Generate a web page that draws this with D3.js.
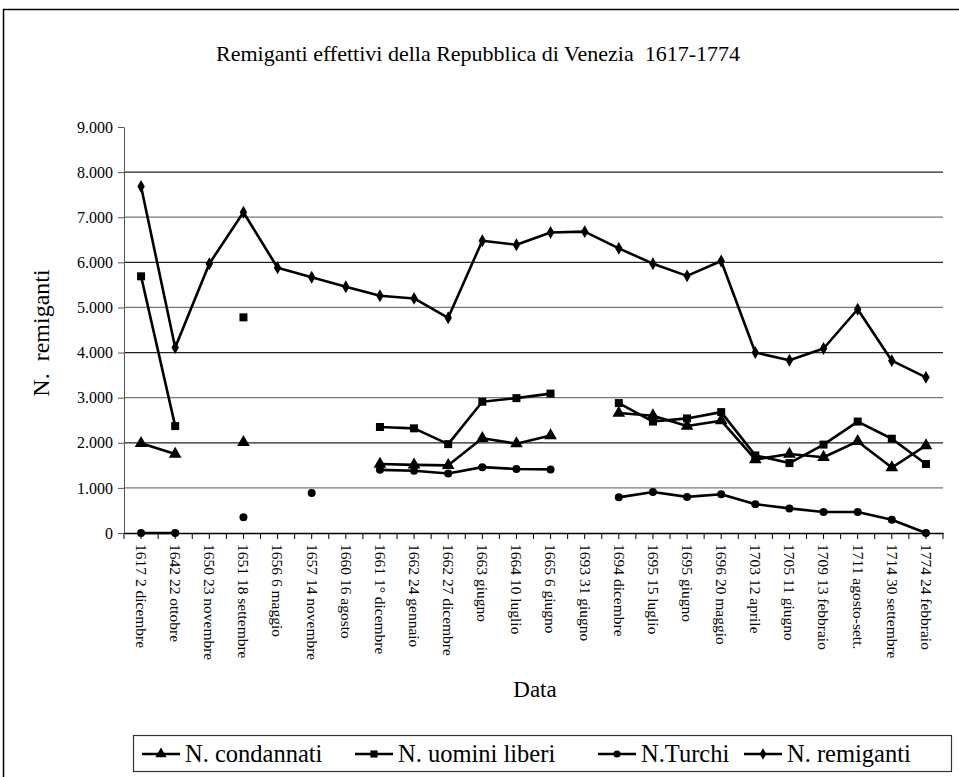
<!DOCTYPE html>
<html>
<head>
<meta charset="utf-8">
<script src="https://cdn.jsdelivr.net/npm/d3@7"></script>
<style>
  body { margin: 0; background: #fff; }
  svg { font-family: "Liberation Serif", "DejaVu Serif", serif; }
</style>
</head>
<body>
<svg id="chart" width="959" height="777"></svg>
<script>
var categories = ["1617 2 dicembre", "1642 22 ottobre", "1650 23 novembre", "1651 18 settembre",
  "1656 6 maggio", "1657 14 novembre", "1660 16 agosto", "1661 1\u00b0 dicembre",
  "1662 24 gennaio", "1662 27 dicembre", "1663 giugno", "1664 10 luglio", "1665 6 giugno",
  "1693 31 giugno", "1694 dicembre", "1695 15 luglio", "1695 giugno", "1696 20 maggio",
  "1703 12 aprile", "1705 11 giugno", "1709 13 febbraio", "1711 agosto-sett.",
  "1714 30 settembre", "1774 24 febbraio"];

var condannati = [1990, 1750, null, 2010, null, null, null, 1530, 1510, 1500, 2100, 1980, 2160,
  null, 2660, 2600, 2370, 2490, 1630, 1750, 1680, 2030, 1450, 1940];
var uominiLiberi = [5690, 2370, null, 4780, null, null, null, 2350, 2320, 1970, 2910, 2990, 3090,
  null, 2880, 2470, 2540, 2680, 1720, 1550, 1960, 2470, 2090, 1530];
var turchi = [0, 0, null, 350, null, 885, null, 1400, 1380, 1320, 1460, 1420, 1410,
  null, 790, 910, 800, 860, 640, 545, 465, 465, 295, 0];
var remiganti = [7680, 4110, 5970, 7110, 5880, 5670, 5460, 5260, 5200, 4770, 6480, 6390, 6660,
  6680, 6310, 5970, 5700, 6030, 4000, 3830, 4090, 4960, 3820, 3450];

var yTicks = [0, 1000, 2000, 3000, 4000, 5000, 6000, 7000, 8000, 9000];

var series = [
  {name: "N. condannati", values: condannati, symbol: d3.symbolTriangle, size: 70},
  {name: "N. uomini liberi", values: uominiLiberi, symbol: d3.symbolSquare, size: 64},
  {name: "N.Turchi", values: turchi, symbol: d3.symbolCircle, size: 50},
  {name: "N. remiganti", values: remiganti, symbol: d3.symbolDiamond, size: 48}
];

var svg = d3.select("#chart");
var plotLeft = 124, plotRight = 943, plotTop = 127, plotBottom = 533;

// cornice esterna
svg.append("rect")
  .attr("x", 3.5).attr("y", 9.5)
  .attr("width", 1000).attr("height", 800)
  .attr("fill", "none").attr("stroke", "#000").attr("stroke-width", 1.5);

var x = d3.scaleBand().domain(categories).range([plotLeft, plotRight]);
var y = d3.scaleLinear().domain([0, 9000]).range([plotBottom, plotTop]);
var cx = c => x(c) + x.bandwidth() / 2;

var itFormat = d3.formatLocale({decimal: ",", thousands: ".", grouping: [3], currency: ["", "€"]}).format(",");

// griglia
svg.append("g").selectAll("line")
  .data(yTicks.filter(d => d > 0 && d < 9000))
  .enter().append("line")
    .attr("x1", plotLeft).attr("x2", plotRight)
    .attr("y1", d => y(d)).attr("y2", d => y(d))
    .attr("stroke", d => (d / 1000) % 2 === 0 ? "#222" : "#777")
    .attr("stroke-width", 1.2);

// asse y
var yAxis = svg.append("g")
  .attr("transform", "translate(" + plotLeft + ",0)")
  .call(d3.axisLeft(y).tickValues(yTicks).tickFormat(itFormat).tickSize(6).tickSizeOuter(0));
yAxis.select(".domain").attr("stroke", "#555");
yAxis.selectAll(".tick line").attr("stroke", "#555");
yAxis.selectAll("text").attr("font-size", "16px").attr("font-family", "Liberation Serif").attr("dx", "-2");

// asse x
var xAxis = svg.append("g")
  .attr("transform", "translate(0," + plotBottom + ")")
  .call(d3.axisBottom(x).tickSize(6).tickSizeOuter(0));
xAxis.select(".domain").attr("stroke", "#000").attr("stroke-width", 1.5);
xAxis.selectAll("text")
  .attr("font-size", "15.5px")
  .attr("font-family", "Liberation Serif")
  .attr("transform", "rotate(90)")
  .attr("x", 11).attr("y", 0).attr("dy", "0.33em")
  .style("text-anchor", "start");

// tacche intermedie sui confini delle categorie
svg.append("g").selectAll("line")
  .data(categories.concat([null]))
  .enter().append("line")
    .attr("x1", (d, i) => plotLeft + i * x.bandwidth())
    .attr("x2", (d, i) => plotLeft + i * x.bandwidth())
    .attr("y1", plotBottom).attr("y2", plotBottom + 6)
    .attr("stroke", "#000");

// linee e marcatori
var line = d3.line()
  .defined(d => d.v !== null)
  .x(d => cx(d.c))
  .y(d => y(d.v));

series.forEach(function(s) {
  var pts = s.values.map((v, i) => ({c: categories[i], v: v}));
  svg.append("path")
    .datum(pts)
    .attr("d", line)
    .attr("fill", "none")
    .attr("stroke", "#000")
    .attr("stroke-width", 2.6)
    .attr("stroke-linejoin", "round");
  svg.append("g").selectAll("path")
    .data(pts.filter(d => d.v !== null))
    .enter().append("path")
      .attr("d", d3.symbol().type(s.symbol).size(s.size))
      .attr("transform", d => "translate(" + cx(d.c) + "," + y(d.v) + ")")
      .attr("fill", "#000");
});

// titoli
svg.append("text")
  .attr("x", 478).attr("y", 61)
  .attr("text-anchor", "middle")
  .attr("font-size", "22px")
  .style("white-space", "pre")
  .text("Remiganti effettivi della Repubblica di Venezia  1617-1774");

svg.append("text")
  .attr("transform", "translate(49,333) rotate(-90)")
  .attr("text-anchor", "middle")
  .attr("font-size", "24px")
  .style("white-space", "pre")
  .text("N.  remiganti");

svg.append("text")
  .attr("x", 535).attr("y", 697)
  .attr("text-anchor", "middle")
  .attr("font-size", "23px")
  .text("Data");

// legenda
var legend = svg.append("g");
legend.append("rect")
  .attr("x", 133.5).attr("y", 735.5)
  .attr("width", 818).attr("height", 36)
  .attr("fill", "#fff").attr("stroke", "#333").attr("stroke-width", 1.2);

var legendX = [142, 355, 598, 744];
series.forEach(function(s, i) {
  var g = legend.append("g").attr("transform", "translate(" + legendX[i] + ",754)");
  g.append("line").attr("x1", 0).attr("x2", 38).attr("y1", 0).attr("y2", 0)
    .attr("stroke", "#000").attr("stroke-width", 2.6);
  g.append("path").attr("d", d3.symbol().type(s.symbol).size(s.size * 0.8))
    .attr("transform", "translate(19,0)").attr("fill", "#000");
  g.append("text").attr("x", 43).attr("y", 8)
    .attr("font-size", "24.5px")
    .text(s.name);
});
</script>
</body>
</html>
